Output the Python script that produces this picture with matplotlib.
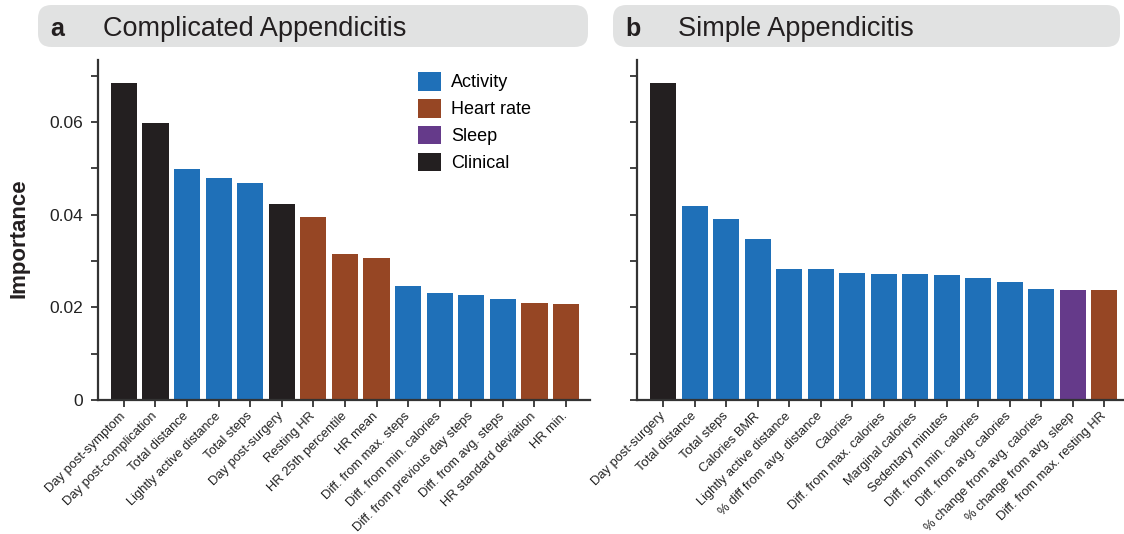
import matplotlib
matplotlib.use("Agg")
import matplotlib.pyplot as plt
from matplotlib.patches import FancyBboxPatch, Patch

plt.rcParams['font.family'] = ['Liberation Sans', 'DejaVu Sans']

COLORS = {"Activity": "#1f70b8", "Heart rate": "#964624", "Sleep": "#653a8a", "Clinical": "#231f20"}

comp_labels = ["Day post-symptom", "Day post-complication", "Total distance", "Lightly active distance",
               "Total steps", "Day post-surgery", "Resting HR", "HR 25th percentile", "HR mean",
               "Diff. from max. steps", "Diff. from min. calories", "Diff. from previous day steps",
               "Diff. from avg. steps", "HR standard deviation", "HR min."]
comp_values = [0.0684, 0.0598, 0.0499, 0.0479, 0.0468, 0.0423, 0.0395, 0.0315, 0.0306,
               0.0246, 0.0231, 0.0227, 0.0218, 0.0209, 0.0207]
comp_groups = ["Clinical", "Clinical", "Activity", "Activity", "Activity", "Clinical", "Heart rate",
               "Heart rate", "Heart rate", "Activity", "Activity", "Activity", "Activity",
               "Heart rate", "Heart rate"]

simp_labels = ["Day post-surgery", "Total distance", "Total steps", "Calories BMR",
               "Lightly active distance", "% diff from avg. distance", "Calories",
               "Diff. from max. calories", "Marginal calories", "Sedentary minutes",
               "Diff. from min. calories", "Diff. from avg. calories", "% change from avg. calories",
               "% change from avg. sleep", "Diff. from max. resting HR"]
simp_values = [0.0684, 0.0419, 0.0390, 0.0347, 0.0283, 0.0283, 0.0274, 0.0272, 0.0272,
               0.0270, 0.0263, 0.0255, 0.0240, 0.0237, 0.0237]
simp_groups = ["Clinical"] + ["Activity"] * 12 + ["Sleep", "Heart rate"]

legend_names = ["Activity", "Heart rate", "Sleep", "Clinical"]

W, H = 1124, 534
fig = plt.figure(figsize=(W / 100, H / 100), dpi=100)

def fx(px): return px / W
def fy(py): return 1 - py / H

axL = fig.add_axes([fx(98), fy(400), fx(590) - fx(98), fy(60) - fy(400)])
axR = fig.add_axes([fx(637), fy(400), fx(1124) - fx(637), fy(60) - fy(400)])

spine_col = "#333333"
for ax, labels, values, groups, xl in [(axL, comp_labels, comp_values, comp_groups, (-0.82, 14.76)),
                                        (axR, simp_labels, simp_values, simp_groups, (-0.83, 14.63))]:
    x = list(range(len(labels)))
    ax.bar(x, values, width=0.83, color=[COLORS[g] for g in groups])
    ax.set_xlim(*xl)
    ax.set_ylim(0, 0.0734)
    ax.set_xticks(x)
    ax.set_xticklabels(labels, rotation=45, ha="right", va="center", rotation_mode="anchor",
                       fontsize=9.3, color="#222222")
    ax.set_yticks([0, 0.02, 0.04, 0.06])
    ax.set_yticks([0.01, 0.03, 0.05, 0.07], minor=True)
    for s in ["top", "right"]:
        ax.spines[s].set_visible(False)
    for s in ["left", "bottom"]:
        ax.spines[s].set_linewidth(1.6)
        ax.spines[s].set_color(spine_col)
    ax.tick_params(axis="both", which="both", direction="out", length=5, width=1.3, color=spine_col)
    ax.tick_params(axis="y", labelsize=12.5, pad=6, labelcolor="#222222")
    ax.tick_params(axis="x", pad=5.5)

axL.set_yticklabels(["0", "0.02", "0.04", "0.06"])
axR.set_yticklabels([])
fig.text(fx(19), fy(238), "Importance", rotation=90, fontsize=16, fontweight="bold",
         ha="center", va="center", color="#231f20")

handles = [Patch(facecolor=COLORS[n], edgecolor="none") for n in legend_names]
axL.legend(handles, legend_names, loc="upper left",
           bbox_to_anchor=((418 - 98) / 492, (400 - 72) / 340), frameon=False,
           fontsize=13, handlelength=1.28, handleheight=1.22, handletextpad=0.55, labelspacing=0.41,
           borderaxespad=0, borderpad=0)

# header boxes
for (x0, x1, letter, title) in [(38, 588, "a", "Complicated Appendicitis"), (613, 1120, "b", "Simple Appendicitis")]:
    box = FancyBboxPatch((fx(x0), fy(47)), fx(x1) - fx(x0), fy(5) - fy(47),
                         boxstyle="round,pad=0,rounding_size=0.012", transform=fig.transFigure,
                         facecolor="#e1e2e2", edgecolor="none", mutation_aspect=W / H)
    fig.patches.append(box)
    fig.text(fx(x0 + 12), fy(35.5), letter, fontsize=18, fontweight="bold", va="baseline", ha="left", color="#231f20")
    fig.text(fx(x0 + 65), fy(35.5), title, fontsize=19.5, va="baseline", ha="left", color="#231f20")

fig.savefig("out.png", dpi=100)
